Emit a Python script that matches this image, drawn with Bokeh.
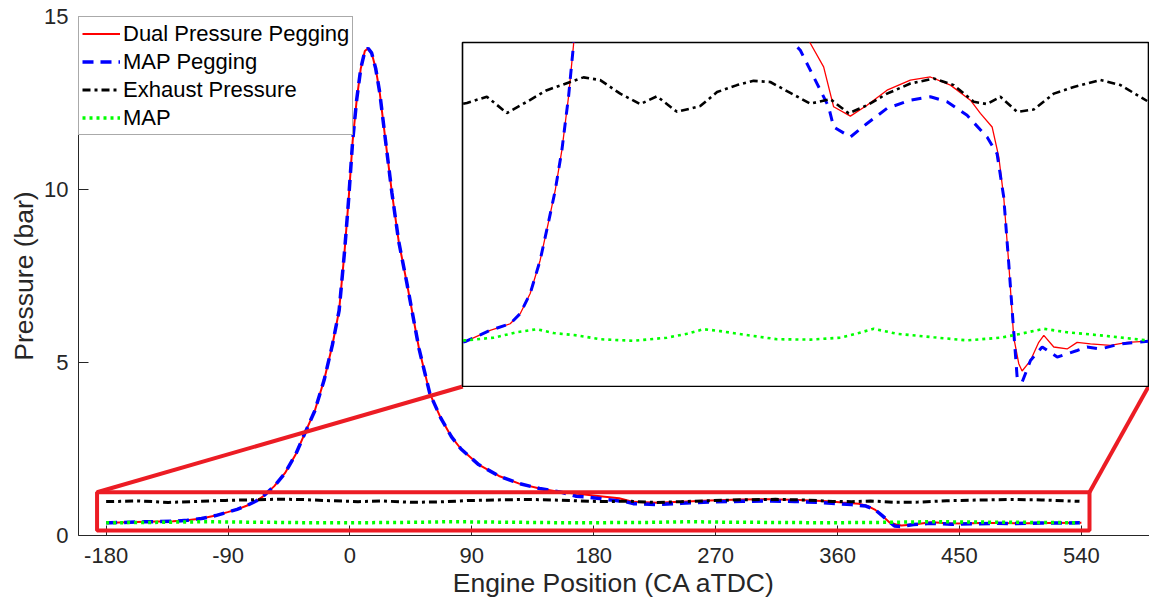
from bokeh.plotting import figure
from bokeh.models import Range1d, Legend, LegendItem, FixedTicker
from bokeh.embed import file_html
from bokeh.resources import INLINE

# ---------------- data (crank angle in deg aTDC, pressure in bar) ----------------
ca_dual = [-180, -176.8, -151.6, -130.6, -120.1, -109.6, -99.1, -90.3, -83.3, -76.3, -69.3, -64.1,
           -56, -48, -40, -33, -26, -19, -13, -8, -4, -1, 2, 5, 8, 11, 13.4, 16, 19, 22, 26, 31,
           36, 42, 51, 59, 67, 75, 82, 95, 110, 125, 140, 155, 170, 184.7, 198.7, 209.2, 226.8,
           244.3, 265.3, 289.8, 310.8, 331.9, 352.9, 363.4, 375.7, 382.7, 387.9, 393.2, 398.4,
           403.7, 407.2, 416.0, 424.7, 430.0, 440.5, 454.5, 465.0, 479.0, 500.0, 517.6, 540]
p_dual = [0.365, 0.367, 0.395, 0.412, 0.438, 0.490, 0.576, 0.675, 0.756, 0.860, 0.998, 1.131,
          1.42, 1.80, 2.35, 2.98, 3.6, 4.5, 5.5, 6.5, 8.2, 9.7, 11.4, 12.6, 13.5, 14.0, 14.08,
          13.95, 13.5, 12.8, 11.5, 9.9, 8.5, 7.3, 5.4, 4.1, 3.4, 2.85, 2.5, 2.05, 1.72, 1.5, 1.36,
          1.26, 1.2, 1.136, 1.075, 0.972, 0.948, 0.976, 1.015, 1.041, 1.049, 1.028, 0.989, 0.955,
          0.920, 0.843, 0.739, 0.567, 0.377, 0.309, 0.290, 0.317, 0.364, 0.382, 0.352, 0.347,
          0.364, 0.360, 0.356, 0.364, 0.367]

ca_mapp = [-180, -176.8, -151.6, -130.6, -120.1, -109.6, -99.1, -90.3, -83.3, -76.3, -69.3, -64.1,
           -56, -48, -40, -33, -26, -19, -13, -8, -4, -1, 2, 5, 8, 11, 13.4, 16, 19, 22, 26, 31,
           36, 42, 51, 59, 67, 75, 82, 95, 110, 125, 140, 155, 167.2, 174.2, 195.2, 203.9, 209.2,
           226.8, 244.3, 265.3, 289.8, 310.8, 328.4, 349.4, 370.4, 380.9, 387.9, 393.2, 397.8,
           402.0, 407.2, 416.0, 428.3, 444.1, 465.0, 475.5, 489.5, 510.6, 540]
p_mapp = [0.365, 0.367, 0.395, 0.412, 0.438, 0.490, 0.576, 0.675, 0.756, 0.860, 0.998, 1.131,
          1.42, 1.80, 2.35, 2.98, 3.6, 4.5, 5.5, 6.5, 8.2, 9.7, 11.4, 12.6, 13.5, 14.0, 14.08,
          13.95, 13.5, 12.8, 11.5, 9.9, 8.5, 7.3, 5.4, 4.1, 3.4, 2.85, 2.5, 2.05, 1.72, 1.5, 1.36,
          1.26, 1.136, 1.118, 1.015, 0.972, 0.920, 0.894, 0.929, 0.968, 0.989, 0.998, 0.985,
          0.950, 0.894, 0.851, 0.739, 0.567, 0.412, 0.274, 0.261, 0.317, 0.352, 0.326, 0.343,
          0.352, 0.347, 0.360, 0.367]

ca_exh = [-180, -176.1, -155.1, -134.1, -113.0, -92.0, -67.5, -53.6, -36.0, -15.0, 6.0, 23.6,
          44.6, 69.1, 86.7, 107.7, 125.1, 142.7, 163.7, 184.7, 205.7, 225.0, 244.3, 265.3, 289.8,
          314.3, 335.4, 356.4, 370.4, 384.4, 402.0, 419.4, 440.5, 461.5, 489.5, 510.6, 538.6]
p_exh = [0.98, 0.982, 0.998, 0.956, 0.985, 1.015, 1.036, 1.048, 1.041, 1.006, 0.979, 0.999,
         0.959, 0.974, 1.010, 1.028, 1.039, 1.036, 1.008, 0.980, 0.992, 0.955, 0.976, 1.006,
         1.032, 1.045, 1.028, 0.985, 0.979, 0.998, 0.959, 0.965, 1.006, 1.023, 1.041, 1.028, 0.987]

ca_map = [-180, -177.9, -148.2, -123.6, -102.5, -85.1, -60.5, -36.0, -1.0, 34.1, 55.1, 72.6, 90.1,
          114.6, 149.7, 184.7, 216.3, 235.5, 251.3, 275.8, 314.3, 349.4, 384.4, 402.0, 429.9,
          454.5, 489.5, 538.6]
p_map = [0.369, 0.369, 0.376, 0.390, 0.398, 0.388, 0.382, 0.372, 0.368, 0.376, 0.386, 0.398, 0.393,
         0.384, 0.372, 0.371, 0.376, 0.388, 0.399, 0.386, 0.377, 0.369, 0.376, 0.384, 0.399, 0.390,
         0.382, 0.369]

labels = ["Dual Pressure Pegging", "MAP Pegging", "Exhaust Pressure", "MAP"]
x_ticks = [-180, -90, 0, 90, 180, 270, 360, 450, 540]
y_ticks = [0, 5, 10, 15]

# zoom call-out geometry (main-axes coordinates)
ZOOM_X = (-186.7, 546.0)
ZOOM_Y = (0.145, 1.251)
INSET_X = (83.3, 589.6)
INSET_Y_BOTTOM = 4.306
INSET_XR = (-180.7, 540.0)
INSET_YR = (0.25, 1.138)

FONT = "Liberation Sans"
AX = "#262626"
ZOOM_RED = "#EC1C24"

# ---------------- main figure ----------------
p = figure(width=1149, height=609, output_backend="svg", toolbar_location=None,
           x_range=Range1d(-200.4, 590.3), y_range=Range1d(0, 15),
           min_border_left=78, min_border_right=0, min_border_top=16, min_border_bottom=74)
p.outline_line_color = None
p.grid.visible = False
p.background_fill_color = "white"

r1 = p.line(ca_dual, p_dual, line_color="#ff0000", line_width=2)
r2 = p.line(ca_mapp, p_mapp, line_color="#0000ff", line_width=3.5, line_dash="11 7")
r3 = p.line(ca_exh, p_exh, line_color="black", line_width=3, line_dash="8 4 3 4")
r4 = p.line(ca_map, p_map, line_color="#00ff00", line_width=3.5, line_dash="3 4")

# zoom rectangle and connector lines
p.quad(left=[ZOOM_X[0]], right=[ZOOM_X[1]], bottom=[ZOOM_Y[0]], top=[ZOOM_Y[1]],
       fill_alpha=0, line_color=ZOOM_RED, line_width=4, level="overlay")
p.line([ZOOM_X[0], INSET_X[0]], [ZOOM_Y[1], INSET_Y_BOTTOM], line_color=ZOOM_RED, line_width=4)
p.line([ZOOM_X[1], INSET_X[1]], [ZOOM_Y[1], INSET_Y_BOTTOM], line_color=ZOOM_RED, line_width=4)

for ax in (p.xaxis[0], p.yaxis[0]):
    ax.axis_line_color = AX
    ax.axis_line_width = 1
    ax.major_tick_line_color = AX
    ax.major_tick_in = 10
    ax.major_tick_out = 0
    ax.minor_tick_line_color = None
    ax.major_label_text_font = FONT
    ax.major_label_text_font_size = "22px"
    ax.major_label_text_color = AX
    ax.axis_label_text_font = FONT
    ax.axis_label_text_font_size = "26.5px"
    ax.axis_label_text_font_style = "normal"
    ax.axis_label_text_color = AX

p.xaxis.ticker = FixedTicker(ticks=x_ticks)
p.yaxis.ticker = FixedTicker(ticks=y_ticks)
p.xaxis.major_label_overrides = {t: str(t) for t in x_ticks}
p.yaxis.major_label_overrides = {t: str(t) for t in y_ticks}
p.xaxis.axis_label = "Engine Position (CA aTDC)"
p.yaxis.axis_label = "Pressure (bar)"
p.xaxis.major_label_standoff = 12
p.xaxis.axis_label_standoff = 2
p.yaxis.major_label_standoff = 10
p.yaxis.axis_label_standoff = 2

legend = Legend(items=[LegendItem(label=labels[0], renderers=[r1]),
                       LegendItem(label=labels[1], renderers=[r2]),
                       LegendItem(label=labels[2], renderers=[r3]),
                       LegendItem(label=labels[3], renderers=[r4])],
                location="top_left", margin=0, padding=3, spacing=1,
                label_height=27, glyph_height=27, glyph_width=38, label_standoff=3,
                label_text_font=FONT, label_text_font_size="22px", label_text_color="black",
                border_line_color="#555555", border_line_width=1,
                background_fill_color="white", background_fill_alpha=1)
p.add_layout(legend)

# ---------------- inset (zoomed view) ----------------
inset = figure(width=688, height=346, output_backend="svg", toolbar_location=None,
               x_range=Range1d(*INSET_XR), y_range=Range1d(*INSET_YR),
               x_axis_location=None, y_axis_location=None, min_border=1)
inset.grid.visible = False
inset.outline_line_color = "black"
inset.outline_line_width = 1.6
inset.background_fill_color = "white"
inset.border_fill_color = "white"
inset.line(ca_dual, p_dual, line_color="#ff0000", line_width=1.3)
inset.line(ca_mapp, p_mapp, line_color="#0000ff", line_width=3, line_dash="10 8")
inset.line(ca_exh, p_exh, line_color="black", line_width=2.6, line_dash="8 4 3 4")
inset.line(ca_map, p_map, line_color="#00ff00", line_width=2.6, line_dash="3 4")
inset.styles = {"position": "absolute", "left": "461px", "top": "41px"}

open("out.html", "w").write(file_html([p, inset], INLINE))
